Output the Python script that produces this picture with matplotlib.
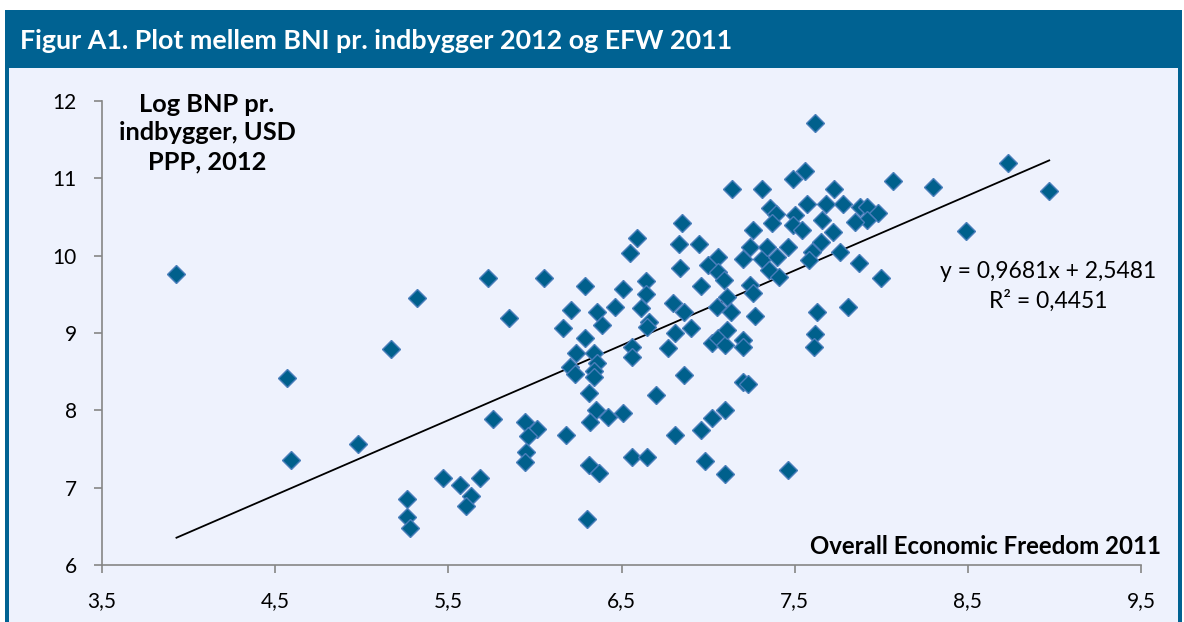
import matplotlib.pyplot as plt
from matplotlib.patches import Rectangle

# EFW 2011 score (x) og log BNP pr. indbygger 2012 (y)
efw = [3.93, 4.57, 4.59, 4.98, 5.17, 5.32, 5.73, 5.85, 6.05, 5.76, 5.47, 5.57, 5.68,
       5.63, 5.60, 5.26, 5.26, 5.28, 5.94, 6.01, 5.96, 5.95, 5.94, 6.18, 6.30,
       6.16, 6.21, 6.29, 6.36, 6.46, 6.51, 6.61, 6.64, 6.64, 6.80, 6.66, 6.65, 6.81,
       6.39, 6.29, 6.24, 6.34, 6.56, 6.56, 6.77, 6.20, 6.23, 6.36, 6.34, 6.34, 6.86,
       6.31, 6.70, 6.35, 6.32, 6.42, 6.51, 6.81, 6.31, 6.37, 6.56, 6.65, 6.59, 6.55,
       6.85, 6.83, 6.95, 6.84, 6.86, 6.90, 6.96, 7.00,
       7.02, 7.06, 7.10, 7.11, 7.20, 7.20, 7.20, 7.23, 7.10, 7.02, 6.96, 6.98, 7.10,
       7.46, 7.05, 7.13, 7.27, 7.11, 7.24, 7.26, 7.06, 7.06, 7.09, 7.20, 7.31, 7.40,
       7.35, 7.41, 7.24, 7.34, 7.46, 7.26, 7.36, 7.39, 7.37, 7.50, 7.49, 7.54, 7.14,
       7.31, 7.49, 7.56, 7.62, 7.73, 7.57, 7.68, 7.78, 7.88, 7.92, 7.98, 7.92, 7.85,
       7.66, 7.72, 7.65, 7.60, 7.76, 7.58, 7.87, 8.00, 7.63, 7.81, 7.62, 7.61,
       8.07, 8.30, 8.49, 8.73, 8.97]
log_bnp = [9.76, 8.42, 7.36, 7.57, 8.79, 9.45, 9.71, 9.20, 9.71, 7.89, 7.13, 7.03, 7.13,
           6.89, 6.76, 6.85, 6.62, 6.48, 7.85, 7.76, 7.67, 7.46, 7.33, 7.68, 6.60,
           9.07, 9.30, 9.61, 9.27, 9.34, 9.57, 9.32, 9.67, 9.51, 9.39, 9.14, 9.08, 9.00,
           9.10, 8.94, 8.74, 8.74, 8.82, 8.69, 8.81, 8.56, 8.47, 8.61, 8.51, 8.43, 8.46,
           8.23, 8.20, 8.01, 7.85, 7.91, 7.97, 7.68, 7.29, 7.19, 7.40, 7.40, 10.23, 10.04,
           10.42, 10.15, 10.15, 9.84, 9.27, 9.07, 9.61, 9.88,
           8.87, 8.94, 8.85, 9.04, 8.91, 8.82, 8.36, 8.34, 8.01, 7.90, 7.75, 7.35, 7.18,
           7.23, 9.34, 9.27, 9.22, 9.47, 9.62, 9.52, 9.98, 9.79, 9.69, 9.96, 9.96, 9.98,
           9.82, 9.73, 10.11, 10.11, 10.11, 10.33, 10.62, 10.54, 10.42, 10.52, 10.40, 10.33, 10.86,
           10.86, 10.99, 11.10, 11.71, 10.86, 10.67, 10.67, 10.67, 10.63, 10.63, 10.55, 10.46, 10.44,
           10.46, 10.30, 10.18, 10.05, 10.05, 9.95, 9.91, 9.71, 9.27, 9.34, 8.99, 8.82,
           10.97, 10.89, 10.32, 11.20, 10.84]

slope = 0.9681
intercept = 2.5481

x_ticks = [3.5, 4.5, 5.5, 6.5, 7.5, 8.5, 9.5]
x_tick_labels = ['3,5', '4,5', '5,5', '6,5', '7,5', '8,5', '9,5']
y_ticks = [6, 7, 8, 9, 10, 11, 12]

title = 'Figur A1. Plot mellem BNI pr. indbygger 2012 og EFW 2011'
y_title = 'Log BNP pr.\nindbygger, USD\nPPP, 2012'
x_title = 'Overall Economic Freedom 2011'
eq_text = 'y = 0,9681x + 2,5481\nR² = 0,4451'

blue = '#006292'
panel = '#EEF2FD'

plt.rcParams['font.family'] = ['Lato', 'DejaVu Sans']

W, H = 1184, 622
fig = plt.figure(figsize=(W / 100, H / 100), dpi=100)
fig.patch.set_facecolor('white')


def fx(x):
    return x / W


def fy(y):
    return 1 - y / H


# ramme: titelbjælke og lys baggrund med blå kanter
fig.add_artist(Rectangle((fx(5), 0), fx(1177), fy(68),
                         transform=fig.transFigure, facecolor=panel, edgecolor='none', zorder=0))
fig.add_artist(Rectangle((fx(5), fy(68)), fx(1177), fy(10) - fy(68),
                         transform=fig.transFigure, facecolor=blue, edgecolor='none', zorder=1))
fig.add_artist(Rectangle((fx(5), 0), fx(4), fy(68),
                         transform=fig.transFigure, facecolor=blue, edgecolor='none', zorder=1))
fig.add_artist(Rectangle((fx(1178), 0), fx(4), fy(68),
                         transform=fig.transFigure, facecolor=blue, edgecolor='none', zorder=1))

fig.text(fx(20), fy(41), title, color='white', fontsize=19.4, fontweight='bold',
         ha='left', va='center')

ax = fig.add_axes([fx(102), fy(565), fx(1141 - 102), fy(101) - fy(565)])
ax.patch.set_alpha(0)

ax.plot(efw, log_bnp, linestyle='none', marker='D', ms=9.6,
        mfc='#00608C', mec='#4A7EBB', mew=1.0, zorder=3, clip_on=False)

x_line = [min(efw), max(efw)]
y_line = [slope * v + intercept for v in x_line]
ax.plot(x_line, y_line, color='black', lw=1.3, zorder=2)

ax.set_xlim(3.5, 9.5)
ax.set_ylim(6, 12)
ax.set_xticks(x_ticks)
ax.set_xticklabels(x_tick_labels)
ax.set_yticks(y_ticks)
ax.set_yticklabels([str(v) for v in y_ticks])

for s in ['top', 'right']:
    ax.spines[s].set_visible(False)
for s in ['left', 'bottom']:
    ax.spines[s].set_color('#868686')
    ax.spines[s].set_linewidth(1.2)

ax.tick_params(axis='both', direction='out', length=6, width=1.2, color='#868686',
               labelsize=15, labelcolor='black')
ax.tick_params(axis='x', pad=13)
ax.tick_params(axis='y', pad=12)

fig.text(fx(207), fy(133), y_title, fontsize=18.3, fontweight='bold', ha='center',
         va='center', linespacing=1.3)
fig.text(fx(1161), fy(547), x_title, fontsize=17.3, fontweight='bold', ha='right',
         va='center')
fig.text(fx(1048), fy(286), eq_text, fontsize=16.5, ha='center', va='center',
         linespacing=1.42)

fig.savefig('out.png', dpi=100)
